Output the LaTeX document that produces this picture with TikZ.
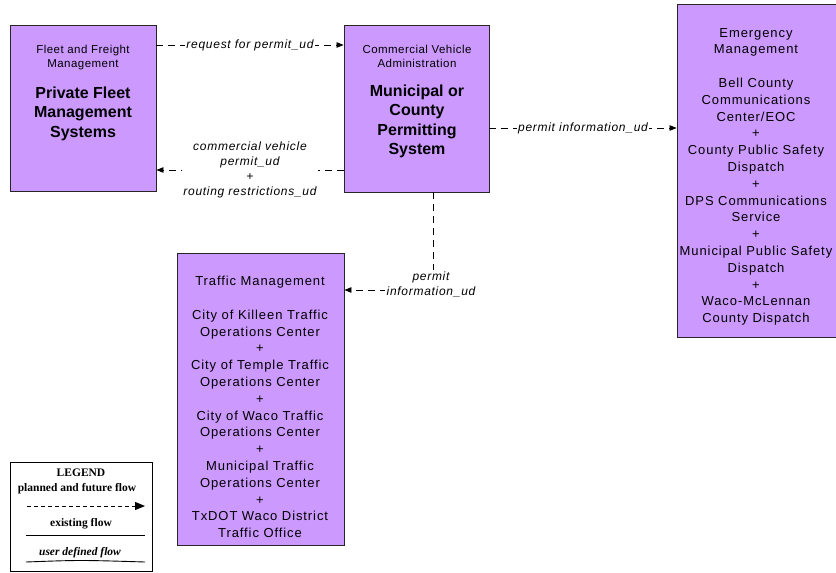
\documentclass[tikz,border=0pt]{standalone}
\usepackage{fontspec}
\setmainfont{Liberation Sans}
\newfontfamily\legfont{Liberation Serif}
\usetikzlibrary{arrows.meta}
\definecolor{boxfill}{RGB}{204,153,255}
\begin{document}
\begin{tikzpicture}[x=1pt,y=-1pt,
  box/.style={draw=black!85, fill=boxfill, line width=0.9pt, inner sep=0pt},
  hdr/.style={align=center, inner sep=0pt, anchor=north, font=\addfontfeature{LetterSpace=4}\fontsize{11.5}{14}\selectfont},
  ttl/.style={align=center, inner sep=0pt, anchor=north, font=\bfseries\fontsize{16}{19.2}\selectfont},
  body/.style={align=center, inner sep=0pt, anchor=north, font=\addfontfeature{LetterSpace=7}\fontsize{13}{16.8}\selectfont},
  flow/.style={line width=0.8pt, dash pattern=on 7pt off 5pt, -{Triangle[length=7pt,width=5.5pt]}},
  lbl/.style={align=center, fill=white, inner sep=1.5pt, font=\itshape\addfontfeature{LetterSpace=6}\fontsize{12}{15}\selectfont},
  leg/.style={inner sep=0pt, font=\legfont\bfseries\fontsize{11.5}{13}\selectfont}
]
\useasboundingbox (0,0) rectangle (836,573);
\clip (0,0) rectangle (836,573);
\fill[white] (0,0) rectangle (836,573);

% boxes
\node[box, minimum width=146pt, minimum height=166pt] (fleet) at (83,108) {};
\node[box, minimum width=145pt, minimum height=167pt] (cva) at (416.5,108.5) {};
\node[box, minimum width=170pt, minimum height=333pt] (ems) at (762,170.5) {};
\node[box, minimum width=167pt, minimum height=292pt] (tm) at (260.5,399) {};

% box texts
\node[hdr] (fleeth) at (83,45) {Fleet and Freight\\Management};
\node[ttl] (fleett) at (83,87) {Private Fleet\\Management\\Systems};
\node[hdr] (cvah) at (417,45) {Commercial Vehicle\\Administration};
\node[ttl] (cvat) at (417,85) {Municipal or\\County\\Permitting\\System};
\node[body] (emst) at (756,28) {Emergency\\Management\\[16.8pt]Bell County\\Communications\\Center/EOC\\+\\County Public Safety\\Dispatch\\+\\DPS Communications\\Service\\+\\Municipal Public Safety\\Dispatch\\+\\Waco-McLennan\\County Dispatch};
\node[body] (tmt) at (260,276) {Traffic Management\\[16.8pt]City of Killeen Traffic\\Operations Center\\+\\City of Temple Traffic\\Operations Center\\+\\City of Waco Traffic\\Operations Center\\+\\Municipal Traffic\\Operations Center\\+\\TxDOT Waco District\\Traffic Office};

% flows
\coordinate (ya) at (0,45);
\coordinate (yb) at (0,170);
\coordinate (yc) at (0,128);
\coordinate (vx) at (433,0);
\coordinate (hy) at (0,290);
\draw[flow] (fleet.east |- ya) -- (cva.west |- ya) node[midway, lbl] (l1) {request for permit\_ud};
\draw[flow] (cva.west |- yb) -- (fleet.east |- yb) node[midway, lbl] (l2) {commercial vehicle\\permit\_ud\\+\\routing restrictions\_ud};
\draw[flow] (cva.east |- yc) -- (ems.west |- yc) node[midway, lbl] (l3) {permit information\_ud};
\draw[flow] (cva.south -| vx) |- (tm.east |- hy);
\node[lbl] (l4) at (431,284.5) {permit\\information\_ud};

% legend
\node[draw=black, line width=0.9pt, minimum width=142pt, minimum height=109pt, inner sep=0pt] (legend) at (81,516.5) {};
\node[leg] (legt) at (81,473) {LEGEND};
\node[leg] (leg1) at (77,489) {planned and future flow};
\coordinate (p1a) at (27,506);
\coordinate (p1b) at (145,506);
\draw[line width=1pt, dash pattern=on 4pt off 3pt, -{Triangle[length=10pt,width=8pt]}] (p1a) -- (p1b);
\node[leg] (leg2) at (81,524) {existing flow};
\coordinate (p2a) at (26,535);
\coordinate (p2b) at (145,535);
\draw[line width=0.9pt] (p2a) -- (p2b);
\node[leg, font=\legfont\bfseries\itshape\fontsize{11.5}{13}\selectfont] (leg3) at (80,553) {user defined flow};
\coordinate (p3a) at (26,562);
\coordinate (p3b) at (145,562);
\draw[line width=0.9pt] (p3a) .. controls (80,560) .. (p3b);
\end{tikzpicture}
\end{document}
